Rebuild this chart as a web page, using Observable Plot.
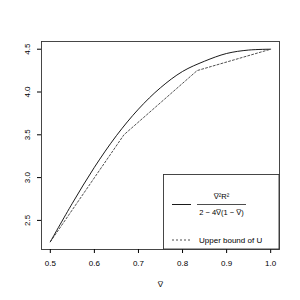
<!DOCTYPE html>
<html><head><meta charset="utf-8">
<script src="https://cdn.jsdelivr.net/npm/d3@7"></script>
<script src="https://cdn.jsdelivr.net/npm/@observablehq/plot@0.6"></script>
<style>
body{margin:0;background:#fff;}
svg{font-family:"Liberation Sans",Arial,sans-serif;}
#chart{opacity:0.999;}
</style>
</head><body>
<div id="chart"></div>
<script>
// Solid curve: V̄²R² / (2 − 4V̄(1 − V̄))
const vbar = [0.5, 0.55, 0.6, 0.65, 0.7, 0.75, 0.8, 0.85, 0.9, 0.95, 1.0];
const ratio = [2.25, 2.70, 3.12, 3.49, 3.80, 4.05, 4.24, 4.36, 4.45, 4.49, 4.5];
// Dashed: Upper bound of U
const upperV = [0.5, 0.667, 0.833, 1.0];
const upperU = [2.25, 3.5, 4.25, 4.5];
const xTicks = [0.5, 0.6, 0.7, 0.8, 0.9, 1.0];
const yTicks = [2.5, 3.0, 3.5, 4.0, 4.5];
const xLabel = "V\u0305";
const legendLabel2 = "Upper bound of U";

const solid = vbar.map((v, i) => ({v, u: ratio[i]}));
const dashed = upperV.map((v, i) => ({v, u: upperU[i]}));

const plot = Plot.plot({
  width: 300, height: 300,
  marginLeft: 41, marginRight: 21, marginTop: 41, marginBottom: 51,
  style: {fontSize: "8px", fontFamily: "Liberation Sans, Arial, sans-serif", background: "#fff", color: "#000"},
  x: {domain: [0.48, 1.02]},
  y: {domain: [2.16, 4.59]},
  marks: [
    Plot.line(solid, {x: "v", y: "u", curve: "catmull-rom", stroke: "#000", strokeWidth: 0.9}),
    Plot.line(dashed, {x: "v", y: "u", stroke: "#222", strokeWidth: 0.8, strokeDasharray: "2,2"}),
    Plot.frame({stroke: "#333", strokeWidth: 0.9}),
    Plot.axisX({ticks: xTicks, tickFormat: d3.format(".1f"), tickSize: 4, tickPadding: 7, label: xLabel, labelAnchor: "center", labelArrow: "none", labelOffset: 37, fontSize: 8}),
    Plot.axisY({ticks: yTicks, tickFormat: d3.format(".1f"), tickSize: 4, tickPadding: 8, tickRotate: -90, label: null, fontSize: 8})
  ]
});
document.getElementById("chart").appendChild(plot);

// Legend (R-style box in lower right)
const svg = d3.select(plot);
const g = svg.append("g").attr("font-size", 8).attr("fill", "#000").attr("text-anchor", "start");
g.append("rect").attr("x", 163.5).attr("y", 174.5).attr("width", 115.5).attr("height", 74.5)
  .attr("fill", "#fff").attr("stroke", "#333").attr("stroke-width", 0.9);
g.append("line").attr("x1", 172).attr("x2", 191).attr("y1", 204.5).attr("y2", 204.5).attr("stroke", "#000").attr("stroke-width", 0.9);
g.append("line").attr("x1", 172).attr("x2", 191).attr("y1", 240).attr("y2", 240).attr("stroke", "#222").attr("stroke-width", 0.8).attr("stroke-dasharray", "2,2");
g.append("text").attr("x", 221.5).attr("y", 199).attr("text-anchor", "middle").attr("font-size", 7.5).text("V\u0305\u00B2R\u00B2");
g.append("line").attr("x1", 197).attr("x2", 246).attr("y1", 204.5).attr("y2", 204.5).attr("stroke", "#000").attr("stroke-width", 0.7);
g.append("text").attr("x", 221.5).attr("y", 215).attr("text-anchor", "middle").attr("font-size", 7.5).text("2 \u2212 4V\u0305(1 \u2212 V\u0305)");
g.append("text").attr("x", 199).attr("y", 242.5).attr("text-anchor", "start").text(legendLabel2);
</script>
</body></html>
